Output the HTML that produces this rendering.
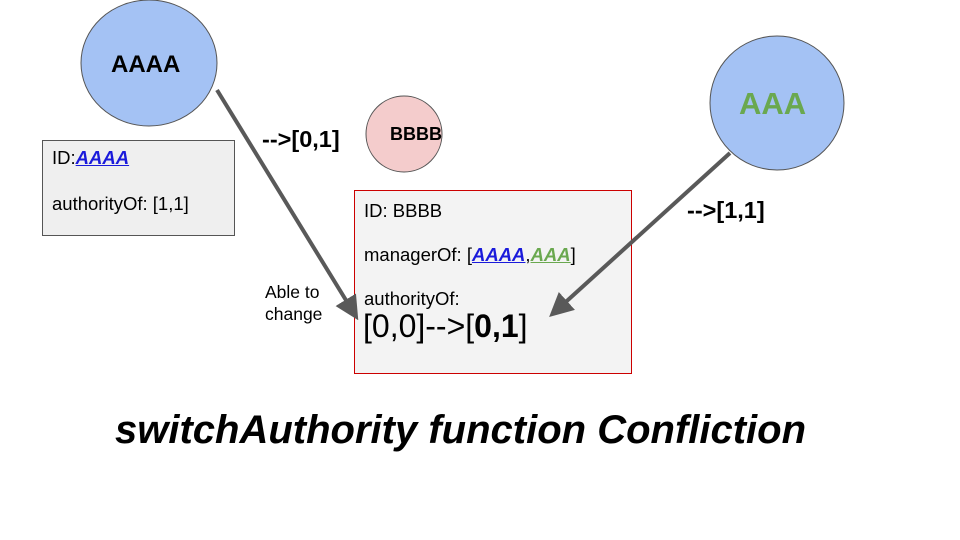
<!DOCTYPE html>
<html><head><style>
body{margin:0;width:960px;height:540px;background:#fff;position:relative;overflow:hidden;font-family:"Liberation Sans",sans-serif;}
.a{position:absolute;white-space:nowrap;}
.l{color:#1a1adb;font-weight:bold;font-style:italic;text-decoration:underline;}
.g{color:#6aa84f;font-weight:bold;font-style:italic;text-decoration:underline;}
</style></head><body>
<svg width="960" height="540" style="position:absolute;left:0;top:0">
<defs><marker id="m" markerWidth="6" markerHeight="6" refX="3" refY="3" orient="auto" markerUnits="strokeWidth"><path d="M0,0 L6,3 L0,6 z" fill="#595959"/></marker></defs>
<ellipse cx="149" cy="63" rx="68" ry="63" fill="#a4c2f4" stroke="#555" stroke-width="1"/>
<circle cx="404" cy="134" r="38" fill="#f4cccc" stroke="#555" stroke-width="1"/>
<ellipse cx="777" cy="103" rx="67" ry="67" fill="#a4c2f4" stroke="#555" stroke-width="1"/>
<rect x="42.5" y="140.5" width="192" height="95" fill="#efefef" stroke="#555"/>
<rect x="354.5" y="190.5" width="277" height="183" fill="#f3f3f3" stroke="#cc0000"/>
<line x1="217" y1="90" x2="352" y2="310" stroke="#595959" stroke-width="4" marker-end="url(#m)"/>
<line x1="730" y1="153" x2="558" y2="309" stroke="#595959" stroke-width="4" marker-end="url(#m)"/>
</svg>
<div class="a" style="left:111px;top:51px;font-size:24px;font-weight:bold">AAAA</div>
<div class="a" style="left:390px;top:124px;font-size:18px;font-weight:bold">BBBB</div>
<div class="a" style="left:739px;top:86px;font-size:31px;font-weight:bold;color:#6aa84f">AAA</div>
<div class="a" style="left:52px;top:147px;font-size:18.5px">ID:<span class="l">AAAA</span></div>
<div class="a" style="left:52px;top:193px;font-size:18.5px">authorityOf: [1,1]</div>
<div class="a" style="left:262px;top:126px;font-size:23.5px;font-weight:bold">-->[0,1]</div>
<div class="a" style="left:687px;top:197px;font-size:23.5px;font-weight:bold">-->[1,1]</div>
<div class="a" style="left:265px;top:281px;font-size:17.5px;line-height:22px">Able to<br>change</div>
<div class="a" style="left:364px;top:200px;font-size:18.5px">ID: BBBB</div>
<div class="a" style="left:364px;top:244px;font-size:18.5px">managerOf: [<span class="l">AAAA</span>,<span class="g">AAA</span>]</div>
<div class="a" style="left:364px;top:288px;font-size:18.5px">authorityOf:</div>
<div class="a" style="left:363px;top:308px;font-size:32px">[0,0]--&gt;[<b>0,1</b>]</div>
<div class="a" style="left:115px;top:408px;font-size:40px;font-weight:bold;font-style:italic">switchAuthority function Confliction</div>
</body></html>
